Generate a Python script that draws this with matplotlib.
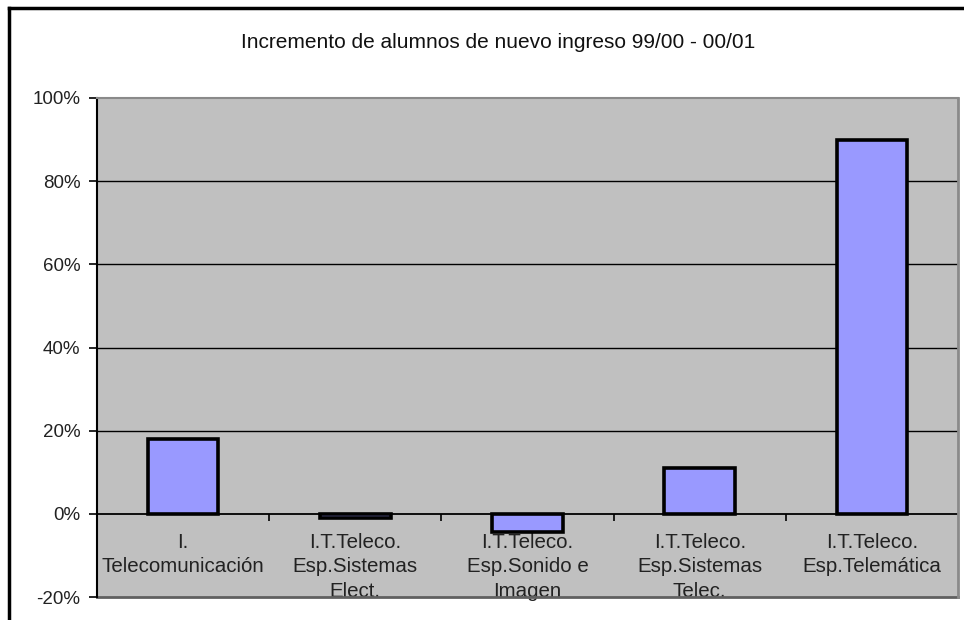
import matplotlib
matplotlib.use("Agg")
import matplotlib.pyplot as plt
from matplotlib.lines import Line2D
from matplotlib.ticker import FixedLocator, FuncFormatter

plt.rcParams['font.family'] = ['Liberation Sans', 'DejaVu Sans']

categories = [
    "I.\nTelecomunicación",
    "I.T.Teleco.\nEsp.Sistemas\nElect.",
    "I.T.Teleco.\nEsp.Sonido e\nImagen",
    "I.T.Teleco.\nEsp.Sistemas\nTelec.",
    "I.T.Teleco.\nEsp.Telemática",
]
increments = [18, -1, -4.3, 11, 90]
y_ticks = [-20, 0, 20, 40, 60, 80, 100]
title = "Incremento de alumnos de nuevo ingreso 99/00 - 00/01"

fig = plt.figure(figsize=(9.64, 6.2), dpi=100)
ax = fig.add_axes([97 / 964, 23 / 620, 861 / 964, 499 / 620])
ax.set_facecolor('#c0c0c0')

x = list(range(len(categories)))
ax.bar(x, increments, width=0.41, color='#9999ff', edgecolor='black',
       linewidth=2.6, zorder=3)

ax.set_xlim(-0.5, len(categories) - 0.5)
ax.set_ylim(-20, 100)

# horizontal gridlines
for v in y_ticks:
    if 0 < v < 100:
        ax.axhline(v, color='black', linewidth=1.0, zorder=1)

# category axis drawn along the zero line
ax.spines['bottom'].set_position(('data', 0))
ax.spines['bottom'].set_color('black')
ax.spines['bottom'].set_linewidth(1.3)
ax.spines['bottom'].set_zorder(2)
ax.xaxis.set_major_locator(FixedLocator(x))
ax.xaxis.set_minor_locator(FixedLocator([i + 0.5 for i in range(len(categories) - 1)]))
ax.set_xticklabels(categories, fontsize=14.8, color='#222222', linespacing=1.37)
ax.tick_params(axis='x', which='major', length=0, pad=13.5)
ax.tick_params(axis='x', which='minor', length=5, width=1.2, direction='out',
               color='black')

# frame of the plotting area
ax.axhline(-20, color='#606060', linewidth=2.0, zorder=2, clip_on=False)
ax.spines['top'].set_color('#8a8a8a')
ax.spines['top'].set_linewidth(1.5)
ax.spines['right'].set_color('#8a8a8a')
ax.spines['right'].set_linewidth(2.0)
ax.spines['left'].set_color('black')
ax.spines['left'].set_linewidth(1.5)

ax.yaxis.set_major_locator(FixedLocator(y_ticks))
ax.yaxis.set_major_formatter(FuncFormatter(lambda v, p: f"{v:.0f}%"))
ax.tick_params(axis='y', length=6, width=1.2, pad=6, labelsize=13.5,
               colors='black')
for lab in ax.get_yticklabels():
    lab.set_color('#222222')

fig.text(498 / 964, 1 - 43 / 620, title, ha='center', va='center',
         fontsize=15, color='#111111')

# outer chart border (top and left edges)
fig.add_artist(Line2D([9 / 964, 1.0], [1 - 8 / 620, 1 - 8 / 620],
                      transform=fig.transFigure, color='black', linewidth=2.5))
fig.add_artist(Line2D([9 / 964, 9 / 964], [0.0, 1 - 8 / 620],
                      transform=fig.transFigure, color='black', linewidth=2.5))

fig.savefig('out.png', dpi=100)
